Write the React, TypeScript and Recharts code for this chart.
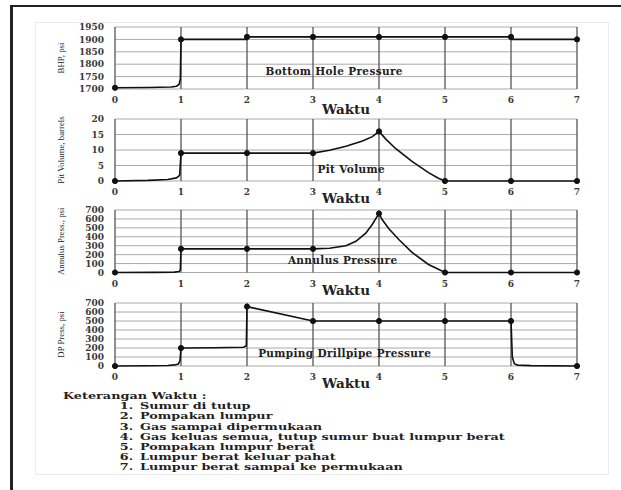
import { LineChart, Line, XAxis, YAxis, CartesianGrid, ReferenceDot } from "recharts";

const timeTicks = [0, 1, 2, 3, 4, 5, 6, 7];
const markTime = [0, 1, 2, 3, 4, 5, 6, 7];

// Bottom hole pressure
const bhpTime = [0, 0.5, 0.85, 0.93, 0.97, 0.99, 1, 2, 2, 3, 4, 5, 6, 6, 7];
const bhpValue = [1705, 1706, 1708, 1711, 1718, 1740, 1900, 1900, 1910, 1910, 1910, 1910, 1910, 1900, 1900];
const bhpMarks = [1705, 1900, 1910, 1910, 1910, 1910, 1910, 1900];
const bhpTicks = [1700, 1750, 1800, 1850, 1900, 1950];

// Pit volume
const pitTime = [0, 0.5, 0.8, 0.93, 0.98, 1, 2, 3, 3.25, 3.5, 3.75, 3.9, 4, 4.1, 4.25, 4.5, 4.75, 4.9, 5, 6, 7];
const pitValue = [0, 0.2, 0.5, 1.0, 1.8, 9, 9, 9, 9.9, 11.2, 12.9, 14.3, 16, 13.6, 10.5, 6.3, 2.7, 0.9, 0, 0, 0];
const pitMarks = [0, 9, 9, 9, 16, 0, 0, 0];
const pitTicks = [0, 5, 10, 15, 20];

// Annulus pressure
const annTime = [0, 0.6, 0.9, 0.97, 0.99, 1, 2, 3, 3.25, 3.5, 3.65, 3.8, 3.9, 3.97, 4, 4.05, 4.15, 4.3, 4.5, 4.75, 5, 6, 7];
const annValue = [0, 1, 4, 10, 30, 265, 265, 265, 272, 300, 350, 440, 540, 625, 660, 590, 490, 370, 225, 90, 0, 0, 0];
const annMarks = [0, 265, 265, 265, 660, 0, 0, 0];

// Drillpipe pressure
const dpTime = [0, 0.5, 0.8, 0.9, 0.96, 0.985, 1, 1.5, 1.95, 1.99, 2, 3, 4, 5, 6, 6.02, 6.05, 6.1, 6.3, 7];
const dpValue = [0, 2, 6, 12, 22, 60, 200, 203, 208, 225, 660, 500, 500, 500, 500, 100, 25, 10, 4, 0];
const dpMarks = [0, 200, 660, 500, 500, 500, 500, 0];
const pressTicks = [0, 100, 200, 300, 400, 500, 600, 700];

const keterangan = [
  "Sumur di tutup",
  "Pompakan lumpur",
  "Gas sampai dipermukaan",
  "Gas keluas semua, tutup sumur buat lumpur berat",
  "Pompakan lumpur berat",
  "Lumpur berat keluar pahat",
  "Lumpur berat sampai ke permukaan",
];

const serif = "DejaVu Serif";
const tickStyle = { fontSize: 9, fontFamily: serif, fontWeight: "bold", fill: "#3a3a3a" };
const titleStyle = { fontSize: 10.5, fontFamily: serif, fontWeight: "bold", fill: "#222", letterSpacing: 0.35 };

function Panel({ top, plotH, axisH, time, value, marks, yTicks, yLabel, title, titleX, titleY }) {
  const curve = time.map((t, i) => ({ t, v: value[i] }));
  const dots = markTime.map((t, i) => ({ t, v: marks[i] }));
  return (
    <div style={{ position: "absolute", left: 0, top }}>
      <LineChart
        width={621}
        height={5 + plotH + axisH + 6}
        margin={{ top: 5, right: 44, bottom: 6, left: 40 }}
        style={{ overflow: "visible" }}
      >
        <CartesianGrid vertical={false} stroke="#aaa" strokeWidth={1} />
        <CartesianGrid horizontal={false} stroke="#555" strokeWidth={1.3} />
        <XAxis
          type="number"
          dataKey="t"
          domain={[0, 7]}
          ticks={timeTicks}
          interval={0}
          axisLine={false}
          tickLine={false}
          tickMargin={2}
          height={axisH}
          tick={tickStyle}
          label={{
            value: "Waktu",
            position: "insideBottom",
            offset: 0,
            style: { fontSize: 13.5, fontFamily: serif, fontWeight: "bold", fill: "#222" },
          }}
        />
        <YAxis
          type="number"
          domain={[yTicks[0], yTicks[yTicks.length - 1]]}
          ticks={yTicks}
          interval={0}
          axisLine={false}
          tickLine={false}
          tickMargin={5}
          width={75}
          tick={tickStyle}
          label={{
            value: yLabel,
            angle: -90,
            position: "insideLeft",
            offset: 21,
            style: { textAnchor: "middle", fontSize: 8.8, fontFamily: "Liberation Serif", fill: "#222" },
          }}
        />
        <ReferenceDot
          x={titleX}
          y={titleY}
          r={0}
          fill="none"
          stroke="none"
          label={{ value: title, position: "center", style: titleStyle }}
        />
        <Line data={curve} dataKey="v" type="linear" stroke="#111" strokeWidth={1.6} dot={false} activeDot={false} isAnimationActive={false} />
        <Line data={dots} dataKey="v" type="linear" stroke="none" dot={{ r: 2.6, fill: "#111", stroke: "#111" }} activeDot={false} isAnimationActive={false} />
      </LineChart>
    </div>
  );
}

export default function App() {
  return (
    <div style={{ position: "absolute", left: 0, top: 0, width: 621, height: 490, background: "#fff", overflow: "hidden" }}>
      <div style={{ position: "absolute", left: 10, top: 5, width: 640, height: 520, borderTop: "2px solid #222", borderLeft: "3px solid #222" }} />
      <div style={{ position: "absolute", left: 35, top: 22, width: 572, height: 451, border: "1px solid #ececec" }} />

      <Panel top={22} plotH={62} axisH={25} time={bhpTime} value={bhpValue} marks={bhpMarks} yTicks={bhpTicks}
        yLabel="BHP, psi" title="Bottom Hole Pressure" titleX={3.32} titleY={1773} />
      <Panel top={114} plotH={62} axisH={22} time={pitTime} value={pitValue} marks={pitMarks} yTicks={pitTicks}
        yLabel="Pit Volume, barrels" title="Pit Volume" titleX={3.58} titleY={3.9} />
      <Panel top={205} plotH={62.5} axisH={22.5} time={annTime} value={annValue} marks={annMarks} yTicks={pressTicks}
        yLabel="Annulus Press., psi" title="Annulus Pressure" titleX={3.45} titleY={140} />
      <Panel top={298} plotH={63} axisH={22} time={dpTime} value={dpValue} marks={dpMarks} yTicks={pressTicks}
        yLabel="DP Press, psi" title="Pumping Drillpipe Pressure" titleX={3.48} titleY={144} />

      <div
        style={{
          position: "absolute",
          left: 63,
          top: 391,
          fontFamily: serif,
          fontWeight: "bold",
          fontSize: 9.5,
          color: "#222",
          transform: "scaleX(1.35)",
          transformOrigin: "left top",
        }}
      >
        <div style={{ height: 10.2, lineHeight: "10.2px", whiteSpace: "nowrap" }}>Keterangan Waktu :</div>
        {keterangan.map((txt, i) => (
          <div key={i} style={{ height: 10.2, lineHeight: "10.2px", whiteSpace: "nowrap", position: "relative" }}>
            <span style={{ position: "absolute", left: 32, width: 20, textAlign: "right" }}>{i + 1}.</span>
            <span style={{ position: "absolute", left: 57 }}>{txt}</span>
          </div>
        ))}
      </div>
    </div>
  );
}
